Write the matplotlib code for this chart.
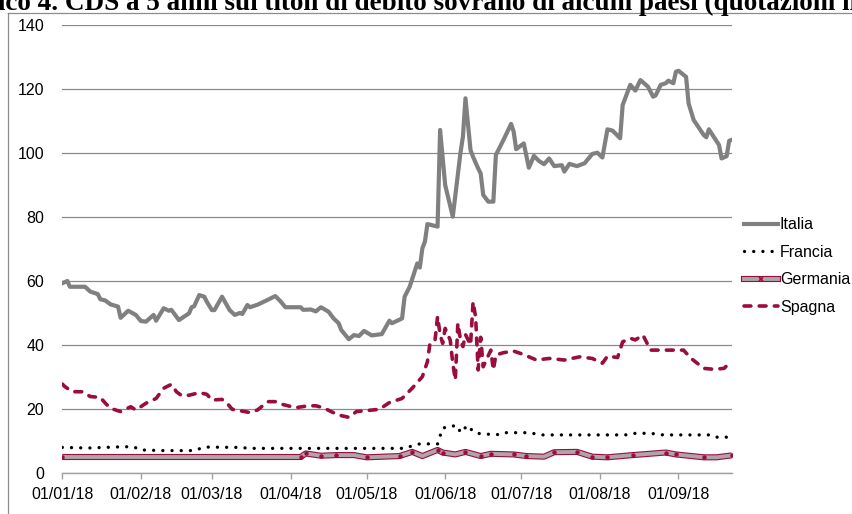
import numpy as np
import matplotlib
matplotlib.use("Agg")
import matplotlib.pyplot as plt
import matplotlib.dates as mdates
from matplotlib.lines import Line2D
from matplotlib.legend_handler import HandlerTuple

# ---- data (day offsets from 01/01/2018, values in basis points) ----
italia_days = [0, 2, 3, 9, 11, 14, 15, 17, 19, 22, 23, 26, 29, 31, 33, 36, 37, 40, 42, 43,
               46, 50, 51, 52, 54, 56, 57, 59, 60, 63, 66, 68, 70, 71, 73, 74, 77, 81, 84, 86,
               88, 94, 95, 98, 100, 102, 105, 107, 109, 110, 113, 115, 117, 119, 122, 126, 129, 130, 134, 135,
               137, 140, 141, 142, 143, 144, 148, 149, 151, 154, 157, 158, 159, 161, 162, 164, 165, 166, 168, 170,
               171, 174, 177, 178, 179, 182, 184, 186, 188, 190, 192, 194, 197, 198, 200, 203, 206, 209, 211, 213,
               215, 217, 220, 221, 224, 226, 228, 231, 233, 234, 236, 238, 239, 241, 242, 243, 246, 247, 249, 253,
               254, 255, 259, 260, 262, 263, 264]
italia_vals = [59.3, 60.0, 58.2, 58.2, 56.7, 55.9, 54.3, 53.9, 52.7, 52.0, 48.5, 50.7, 49.4, 47.5, 47.3, 49.4, 47.6, 51.5, 50.7, 51.0,
               47.8, 49.9, 51.8, 52.1, 55.6, 55.1, 53.5, 50.9, 50.9, 55.1, 50.9, 49.4, 50.0, 49.7, 52.5, 51.8, 52.6, 54.1, 55.3, 53.7,
               51.8, 51.8, 51.0, 51.1, 50.5, 51.8, 50.4, 48.3, 46.8, 44.7, 41.8, 43.1, 42.8, 44.4, 43.0, 43.4, 47.6, 46.8, 48.3, 55.1,
               58.2, 65.5, 64.2, 70.2, 72.3, 77.8, 77.0, 107.2, 90.0, 80.1, 99.9, 105.1, 117.1, 100.9, 98.8, 95.2, 93.6, 86.9, 84.8, 84.8,
               99.4, 104.1, 109.1, 106.7, 101.2, 103.0, 95.4, 99.1, 97.5, 96.5, 98.3, 95.9, 96.2, 94.2, 96.6, 95.9, 96.8, 99.7, 100.1, 98.6,
               107.4, 107.0, 104.6, 115.0, 121.3, 119.5, 122.8, 120.7, 117.6, 118.0, 121.3, 121.8, 122.6, 121.8, 125.4, 125.7, 123.8, 115.5, 110.3, 105.6,
               104.9, 107.4, 102.5, 98.3, 99.0, 103.8, 104.1]

spagna_days = [0, 1, 4, 8, 11, 15, 17, 19, 23, 27, 29, 33, 37, 40, 43, 45, 47, 50, 54, 57,
               59, 63, 65, 67, 74, 77, 81, 84, 87, 92, 97, 100, 103, 106, 109, 113, 116, 120, 125, 129,
               134, 138, 142, 144, 145, 147, 148, 149, 150, 151, 153, 154, 155, 156, 157, 158, 159, 161, 162, 163,
               164, 165, 166, 169, 170, 171, 174, 178, 182, 187, 192, 198, 204, 209, 213, 215, 219, 221, 224, 226,
               229, 232, 238, 245, 248, 253, 257, 261, 264]
spagna_vals = [27.8, 27.0, 25.4, 25.4, 23.9, 23.6, 21.8, 20.2, 19.2, 20.7, 19.7, 21.8, 23.3, 26.5, 27.7, 25.4, 24.2, 24.3, 25.1, 24.6,
               22.8, 23.0, 21.8, 19.9, 18.9, 19.7, 22.3, 22.3, 21.4, 20.4, 21.0, 21.0, 20.4, 19.2, 18.1, 17.4, 19.2, 19.5, 19.9, 22.0,
               23.3, 26.5, 30.1, 34.8, 40.5, 41.5, 48.9, 43.3, 40.5, 45.2, 41.5, 34.3, 29.1, 46.8, 41.8, 39.5, 43.3, 40.0, 53.5, 48.8,
               32.2, 42.4, 33.2, 38.4, 32.2, 36.9, 37.6, 38.1, 37.0, 35.3, 35.8, 35.3, 36.3, 35.8, 34.3, 36.5, 36.1, 41.0, 42.1, 41.6,
               43.1, 38.4, 38.4, 38.4, 35.8, 32.7, 32.4, 32.7, 35.1]

francia_days = [0, 10, 24, 28, 31, 40, 52, 56, 69, 75, 135, 138, 141, 148, 149, 150, 153, 156, 157, 158,
                160, 162, 165, 172, 174, 184, 189, 222, 226, 232, 237, 255, 257, 262, 264]
francia_vals = [8.0, 7.8, 8.2, 8.2, 7.2, 7.0, 7.0, 8.1, 8.0, 7.7, 7.7, 8.5, 9.1, 9.1, 11.6, 14.0, 14.7, 14.7, 12.6, 13.5,
                14.9, 12.9, 12.2, 12.0, 12.6, 12.6, 11.9, 11.9, 12.4, 12.4, 11.9, 11.9, 11.2, 11.2, 11.6]

germania_days = [0, 94, 96, 102, 108, 115, 120, 133, 138, 142, 148, 150, 155, 159, 165, 169, 178, 183, 190, 194,
                 203, 209, 215, 225, 238, 242, 253, 258, 264]
germania_vals = [5.0, 5.0, 6.1, 5.4, 5.6, 5.6, 4.9, 5.3, 6.6, 5.3, 7.2, 6.4, 5.8, 6.6, 5.3, 6.0, 5.8, 5.3, 5.1, 6.5,
                 6.6, 5.1, 4.9, 5.6, 6.4, 5.8, 4.9, 4.9, 5.5]

labels = ["Italia", "Francia", "Germania", "Spagna"]
yticks = [0, 20, 40, 60, 80, 100, 120, 140]
title = "Grafico 4. CDS a 5 anni sui titoli di debito sovrano di alcuni paesi (quotazioni in punti base)"

start = np.datetime64("2018-01-01")
def to_dates(days):
    return start + np.array(days, dtype="timedelta64[D]")

GRAY = "#808080"
CRIMSON = "#9b0d3e"
HATCH = "#b0a4a8"

plt.rcParams["font.family"] = ["Liberation Sans", "DejaVu Sans"]

fig = plt.figure(figsize=(8.52, 5.14), dpi=100)
ax = fig.add_axes([62.3 / 852, 1 - 473 / 514, (731.7 - 62.3) / 852, (473 - 25) / 514])

# Germania: compound line (crimson outline, gray core, crimson dots)
ax.plot(to_dates(germania_days), germania_vals, color=CRIMSON, lw=4.4, solid_capstyle="butt", zorder=3)
ax.plot(to_dates(germania_days), germania_vals, color=HATCH, lw=2.8, zorder=3.1,
        marker="o", ms=2.2, mfc=CRIMSON, mec=CRIMSON, markevery=0.022)
ax.plot(to_dates(francia_days), francia_vals, color="black", lw=2.4,
        linestyle=(0, (0.01, 2.75)), dash_capstyle="round", zorder=4)
ax.plot(to_dates(spagna_days), spagna_vals, color=CRIMSON, lw=2.6,
        linestyle=(0, (1.9, 2.3)), dash_capstyle="round", zorder=4)
ax.plot(to_dates(italia_days), italia_vals, color=GRAY, lw=3.0, solid_joinstyle="round", zorder=5)

ax.set_ylim(0, 140)
ax.set_xlim(start, start + np.timedelta64(264, "D"))
ax.set_yticks(yticks)
ax.yaxis.grid(True, color="#8a8a8a", lw=0.9)
ax.set_axisbelow(True)
for s in ["top", "right", "left"]:
    ax.spines[s].set_visible(False)
ax.spines["bottom"].set_color("#a0a0a0")
ax.spines["bottom"].set_linewidth(1.0)
ax.xaxis.set_major_locator(mdates.MonthLocator())
ax.xaxis.set_major_formatter(mdates.DateFormatter("%d/%m/%y"))
ax.tick_params(axis="x", direction="out", length=4, width=1, color="#a0a0a0", pad=6, labelsize=11.5)
ax.tick_params(axis="y", length=0, pad=13, labelsize=11.5)

# legend
h_it = Line2D([], [], color=GRAY, lw=3.0)
h_fr = Line2D([], [], color="black", lw=2.4, linestyle=(0, (0.01, 2.75)), dash_capstyle="round")
h_ge = (Line2D([], [], color=CRIMSON, lw=4.4),
        Line2D([], [], color=HATCH, lw=2.8, marker="x", ms=3, mec=CRIMSON, mew=1.2))
h_sp = Line2D([], [], color=CRIMSON, lw=2.6, linestyle=(0, (1.9, 2.3)), dash_capstyle="round")
fig.legend([h_it, h_fr, h_ge, h_sp], labels, loc="upper left",
           bbox_to_anchor=(738 / 852, 1 - 211 / 514), frameon=False, fontsize=11.5,
           handlelength=2.1, handletextpad=0.12, labelspacing=0.78, borderaxespad=0,
           handler_map={tuple: HandlerTuple(ndivide=1, pad=0)})

# title (clipped at top-left and right as in the source)
fig.text(-0.068, 1 - 9.5 / 514, title, fontsize=19.5, fontweight="bold",
         family=["Liberation Serif", "DejaVu Serif"], ha="left", va="baseline")

# outer frame lines
fig.add_artist(Line2D([7.5 / 852, 7.5 / 852], [0, 1 - 12.5 / 514], transform=fig.transFigure,
                      color="#8c8c8c", lw=0.9))
fig.add_artist(Line2D([7.5 / 852, 1], [1 - 12.5 / 514, 1 - 12.5 / 514], transform=fig.transFigure,
                      color="#8c8c8c", lw=0.9))

fig.savefig("out.png", dpi=100)
